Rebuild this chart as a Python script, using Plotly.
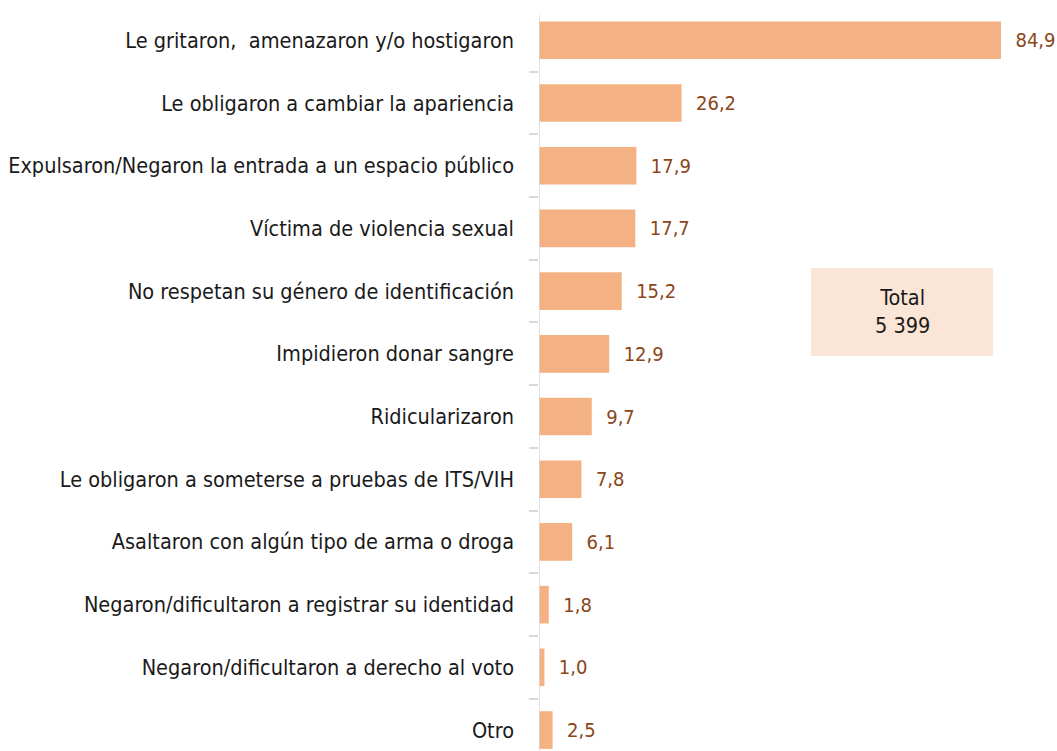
import plotly.graph_objects as go

categories = [
    "Le gritaron,  amenazaron y/o hostigaron",
    "Le obligaron a cambiar la apariencia",
    "Expulsaron/Negaron la entrada a un espacio público",
    "Víctima de violencia sexual",
    "No respetan su género de identificación",
    "Impidieron donar sangre",
    "Ridicularizaron",
    "Le obligaron a someterse a pruebas de ITS/VIH",
    "Asaltaron con algún tipo de arma o droga",
    "Negaron/dificultaron a registrar su identidad",
    "Negaron/dificultaron a derecho al voto",
    "Otro",
]
values = [84.9, 26.2, 17.9, 17.7, 15.2, 12.9, 9.7, 7.8, 6.1, 1.8, 1.0, 2.5]
value_labels = [f"{v:.1f}".replace(".", ",") for v in values]
total_label = "Total<br>5 399"

FONT = "Liberation Sans Narrow, DejaVu Sans Condensed, Arial Narrow, sans-serif"
BAR = "#F4B183"
VAL = "#8A4518"

W, H = 1057, 751
ML, MR, MT, MB = 539, 0, 9, 0
px_per_unit = (1001 - 539) / 84.9
xmax = (W - ML - MR) / px_per_unit
fig = go.Figure()
fig.add_trace(go.Bar(
    y=categories, x=values, orientation="h",
    marker=dict(color=BAR, line=dict(width=0)),
    width=0.6,
    text=["  " + t for t in value_labels],
    textposition="outside",
    textfont=dict(family=FONT, size=20, color=VAL),
    cliponaxis=False,
    hoverinfo="skip",
))

band = 62.7
bottom = 11 + (H - MB - (MT + 0.5 * band + 11 * band)) / band

fig.update_layout(
    width=W, height=H,
    margin=dict(l=ML, r=MR, t=MT, b=MB, pad=0, autoexpand=False),
    paper_bgcolor="white", plot_bgcolor="white",
    showlegend=False,
    bargap=0.4,
    xaxis=dict(range=[0, xmax], visible=False, fixedrange=True),
    yaxis=dict(
        type="category",
        range=[bottom, -0.499],
        showline=False,
        automargin=False,
        fixedrange=True,
        ticks="outside", ticklen=9, tickcolor="#d9d9d9", tickwidth=1.5,
        tickson="boundaries",
        ticklabelstandoff=24,
        tickfont=dict(family=FONT, size=21.5, color="#1a1a1a"),
        showgrid=False,
        zeroline=False,
    ),
    shapes=[
        dict(type="line", xref="x", yref="paper", x0=0, x1=0,
             y0=0, y1=(H - 15) / (H - MT - MB), line=dict(color="#d9d9d9", width=1.5)),
        dict(type="rect", xref="paper", yref="paper",
             x0=(811 - ML) / (W - ML - MR), x1=(993 - ML) / (W - ML - MR),
             y0=(H - 356) / (H - MT - MB), y1=(H - 268) / (H - MT - MB),
             fillcolor="#FBE5D6", line=dict(width=0), layer="below"),
    ],
    annotations=[
        dict(xref="paper", yref="paper",
             x=(902 - ML) / (W - ML - MR), y=(H - 312) / (H - MT - MB),
             text=total_label, showarrow=False,
             font=dict(family=FONT, size=21.5, color="#1a1a1a"),
             align="center", xanchor="center", yanchor="middle"),
    ],
)

fig.write_html("out.html", config={"displayModeBar": False},
               post_script="document.body.style.margin='0';document.body.style.overflow='hidden';")
